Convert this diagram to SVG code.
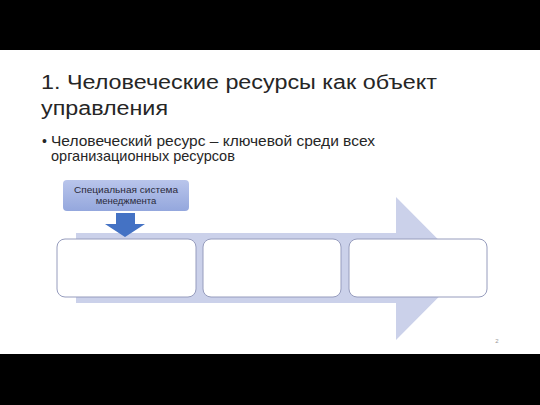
<svg xmlns="http://www.w3.org/2000/svg" width="540" height="405" viewBox="0 0 540 405">
<defs>
<linearGradient id="gBox" x1="0" y1="0" x2="0" y2="1">
<stop offset="0" stop-color="#b9c5eb"/>
<stop offset="1" stop-color="#94a7dd"/>
</linearGradient>
<style>
.t{font-family:"Liberation Sans",Arial,sans-serif;fill:#262626}
.stage{fill:#ffffff;stroke:#969cbd;stroke-width:1}
</style>
</defs>
<rect x="0" y="0" width="540" height="405" fill="#ffffff"/>
<rect x="0" y="0" width="540" height="50" fill="#000000"/>
<rect x="0" y="354" width="540" height="51" fill="#000000"/>
<text class="t" x="41" y="89" font-size="20" textLength="396" lengthAdjust="spacingAndGlyphs">1. Человеческие ресурсы как объект</text>
<text class="t" x="41" y="115" font-size="20" textLength="127" lengthAdjust="spacingAndGlyphs">управления</text>
<text class="t" x="42" y="146" font-size="14" fill="#333">•</text>
<text class="t" x="51" y="146" font-size="14.5" textLength="324" lengthAdjust="spacingAndGlyphs" fill="#333">Человеческий ресурс – ключевой среди всех</text>
<text class="t" x="51" y="161" font-size="14.5" fill="#333">организационных ресурсов</text>
<g id="bigArrow">
<polygon points="76,233 396,233 396,197 467,268.5 396,340 396,303 76,303" fill="#cbd1ea"/>
</g>
<g id="stage1"><rect class="stage" x="57" y="239" width="139" height="58" rx="8"/></g>
<g id="stage2"><rect class="stage" x="203" y="239" width="138" height="58" rx="8"/></g>
<g id="stage3"><rect class="stage" x="349" y="239" width="138" height="58" rx="8"/></g>
<g id="mgmt">
<rect x="63" y="180" width="126" height="31" rx="4" fill="url(#gBox)"/>
<text x="126" y="193" font-size="9.5" text-anchor="middle" font-family="Liberation Sans, Arial, sans-serif" fill="#2a2a3a" textLength="104" lengthAdjust="spacingAndGlyphs">Специальная система</text>
<text x="126" y="204" font-size="9.5" text-anchor="middle" font-family="Liberation Sans, Arial, sans-serif" fill="#2a2a3a">менеджмента</text>
</g>
<g id="connectors">
<polygon points="116,213 135,213 135,224 145,224 125,237 105,224 116,224" fill="#4472c4"/>
</g>
<text x="497" y="343" font-size="6" font-family="Liberation Sans, Arial, sans-serif" fill="#999999" text-anchor="middle">2</text>
</svg>
